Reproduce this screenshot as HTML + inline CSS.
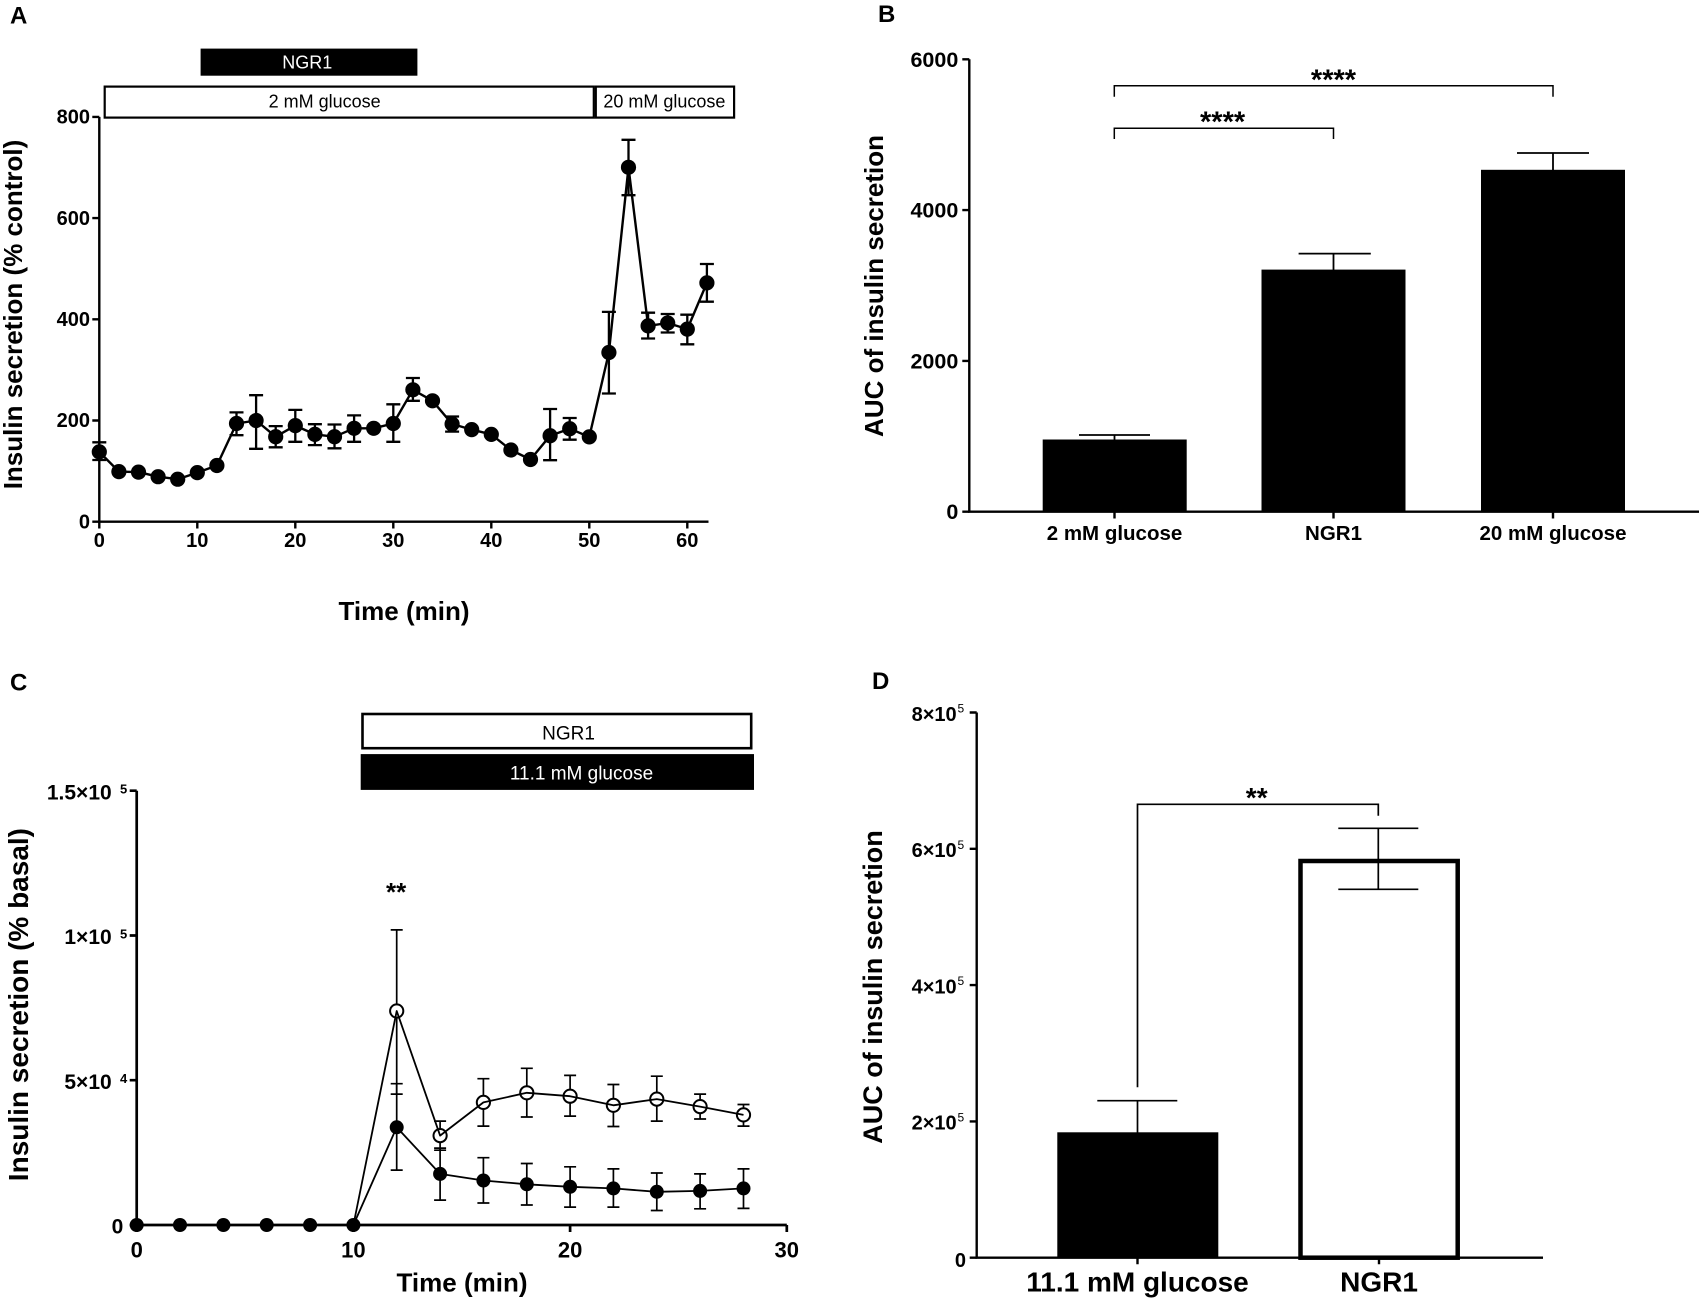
<!DOCTYPE html>
<html>
<head>
<meta charset="utf-8">
<style>
html,body{margin:0;padding:0;background:#fff;}
svg{display:block;}
text{font-family:"Liberation Sans",Arial,sans-serif;fill:#000;}
.b{font-weight:bold;}
</style>
</head>
<body>
<svg width="1699" height="1302" viewBox="0 0 1699 1302" xmlns="http://www.w3.org/2000/svg">
<rect x="0" y="0" width="1699" height="1302" fill="#fff"/>

<!-- ================= PANEL A ================= -->
<text class="b" x="10" y="23.5" font-size="24">A</text>
<!-- header bars -->
<rect x="200.6" y="48.6" width="216.8" height="27.1" fill="#000"/>
<text x="307.3" y="68.5" font-size="18" text-anchor="middle" style="fill:#fff">NGR1</text>
<rect x="104.7" y="86.6" width="489.1" height="31" fill="#fff" stroke="#000" stroke-width="2.2"/>
<rect x="595.8" y="86.6" width="138.3" height="31" fill="#fff" stroke="#000" stroke-width="2.2"/>
<text x="324.6" y="107.5" font-size="18" text-anchor="middle">2 mM glucose</text>
<text x="664.4" y="107.5" font-size="18" text-anchor="middle">20 mM glucose</text>
<!-- axes -->
<g stroke="#000" stroke-width="2.4" fill="none">
<path d="M99.3,116.9 V521.7 H708.5"/>
<path d="M92.3,116.9 H99.3 M92.3,218.1 H99.3 M92.3,319.3 H99.3 M92.3,420.5 H99.3 M92.3,521.7 H99.3"/>
<path d="M99.3,521.7 V528.5 M197.3,521.7 V528.5 M295.3,521.7 V528.5 M393.3,521.7 V528.5 M491.3,521.7 V528.5 M589.3,521.7 V528.5 M687.3,521.7 V528.5"/>
</g>
<g class="b" font-size="20" text-anchor="end">
<text class="b" x="90" y="123.6">800</text>
<text class="b" x="90" y="224.8">600</text>
<text class="b" x="90" y="326">400</text>
<text class="b" x="90" y="427.2">200</text>
<text class="b" x="90" y="528.4">0</text>
</g>
<g font-size="20" text-anchor="middle">
<text class="b" x="99.3" y="547">0</text>
<text class="b" x="197.3" y="547">10</text>
<text class="b" x="295.3" y="547">20</text>
<text class="b" x="393.3" y="547">30</text>
<text class="b" x="491.3" y="547">40</text>
<text class="b" x="589.3" y="547">50</text>
<text class="b" x="687.3" y="547">60</text>
</g>
<text class="b" x="404" y="620" font-size="26" text-anchor="middle">Time (min)</text>
<text class="b" font-size="26" text-anchor="middle" transform="translate(22,314.5) rotate(-90)">Insulin secretion (% control)</text>
<!-- error bars A -->
<g stroke="#000" stroke-width="2.3" fill="none">
<path d="M99.3,442.3V460 M92.3,442.3H106.3 M92.3,460H106.3"/>
<path d="M236.5,412.4V435.2 M229.5,412.4H243.5 M229.5,435.2H243.5"/>
<path d="M256.1,395.2V448.8 M249.1,395.2H263.1 M249.1,448.8H263.1"/>
<path d="M275.7,426.1V447.3 M268.7,426.1H282.7 M268.7,447.3H282.7"/>
<path d="M295.3,409.9V441.8 M288.3,409.9H302.3 M288.3,441.8H302.3"/>
<path d="M314.9,424.2V445.1 M307.9,424.2H321.9 M307.9,445.1H321.9"/>
<path d="M334.5,424.5V448.3 M327.5,424.5H341.5 M327.5,448.3H341.5"/>
<path d="M354.1,415.4V441.8 M347.1,415.4H361.1 M347.1,441.8H361.1"/>
<path d="M393.3,404.3V441.8 M386.3,404.3H400.3 M386.3,441.8H400.3"/>
<path d="M412.9,378V400.8 M405.9,378H419.9 M405.9,400.8H419.9"/>
<path d="M452.1,416.5V431.6 M445.1,416.5H459.1 M445.1,431.6H459.1"/>
<path d="M550.1,409V460.2 M543.1,409H557.1 M543.1,460.2H557.1"/>
<path d="M569.7,418V439.7 M562.7,418H576.7 M562.7,439.7H576.7"/>
<path d="M608.9,311.9V393.5 M601.9,311.9H615.9 M601.9,393.5H615.9"/>
<path d="M628.5,139.8V195.2 M621.5,139.8H635.5 M621.5,195.2H635.5"/>
<path d="M648.1,312.7V338.5 M641.1,312.7H655.1 M641.1,338.5H655.1"/>
<path d="M667.7,314V332.5 M660.7,314H674.7 M660.7,332.5H674.7"/>
<path d="M687.3,314.7V344.3 M680.3,314.7H694.3 M680.3,344.3H694.3"/>
<path d="M706.9,264V301.7 M699.9,264H713.9 M699.9,301.7H713.9"/>
</g>
<polyline fill="none" stroke="#000" stroke-width="2.4" stroke-linejoin="round" points="99.3,451.9 118.9,471.6 138.5,472.1 158.1,476.7 177.7,479.2 197.3,472.6 216.9,465.5 236.5,423.5 256.1,420.5 275.7,436.7 295.3,425.6 314.9,434.4 334.5,436.7 354.1,428.3 373.7,428.3 393.3,423.5 412.9,389.8 432.5,400.8 452.1,424 471.7,429.6 491.3,434.4 510.9,450 530.5,459.5 550.1,435.7 569.7,428.7 589.3,436.9 608.9,352.5 628.5,167.3 648.1,325.9 667.7,323 687.3,329.1 706.9,282.9"/>
<g fill="#000">
<circle cx="99.3" cy="451.9" r="7.6"/><circle cx="118.9" cy="471.6" r="7.6"/><circle cx="138.5" cy="472.1" r="7.6"/>
<circle cx="158.1" cy="476.7" r="7.6"/><circle cx="177.7" cy="479.2" r="7.6"/><circle cx="197.3" cy="472.6" r="7.6"/>
<circle cx="216.9" cy="465.5" r="7.6"/><circle cx="236.5" cy="423.5" r="7.6"/><circle cx="256.1" cy="420.5" r="7.6"/>
<circle cx="275.7" cy="436.7" r="7.6"/><circle cx="295.3" cy="425.6" r="7.6"/><circle cx="314.9" cy="434.4" r="7.6"/>
<circle cx="334.5" cy="436.7" r="7.6"/><circle cx="354.1" cy="428.3" r="7.6"/><circle cx="373.7" cy="428.3" r="7.6"/>
<circle cx="393.3" cy="423.5" r="7.6"/><circle cx="412.9" cy="389.8" r="7.6"/><circle cx="432.5" cy="400.8" r="7.6"/>
<circle cx="452.1" cy="424" r="7.6"/><circle cx="471.7" cy="429.6" r="7.6"/><circle cx="491.3" cy="434.4" r="7.6"/>
<circle cx="510.9" cy="450" r="7.6"/><circle cx="530.5" cy="459.5" r="7.6"/><circle cx="550.1" cy="435.7" r="7.6"/>
<circle cx="569.7" cy="428.7" r="7.6"/><circle cx="589.3" cy="436.9" r="7.6"/><circle cx="608.9" cy="352.5" r="7.6"/>
<circle cx="628.5" cy="167.3" r="7.6"/><circle cx="648.1" cy="325.9" r="7.6"/><circle cx="667.7" cy="323" r="7.6"/>
<circle cx="687.3" cy="329.1" r="7.6"/><circle cx="706.9" cy="282.9" r="7.6"/>
</g>

<!-- ================= PANEL B ================= -->
<text class="b" x="878" y="22" font-size="24">B</text>
<g stroke="#000" stroke-width="2.4" fill="none">
<path d="M969.3,59.3 V511.7 H1699"/>
<path d="M962.3,59.3H969.3 M962.3,210.1H969.3 M962.3,360.9H969.3 M962.3,511.7H969.3"/>
<path d="M1114.5,511.7V518.5 M1333.5,511.7V518.5 M1553,511.7V518.5"/>
</g>
<g font-size="21.5" text-anchor="end">
<text class="b" x="958.3" y="66.8">6000</text>
<text class="b" x="958.3" y="217.6">4000</text>
<text class="b" x="958.3" y="368.4">2000</text>
<text class="b" x="958.3" y="519.2">0</text>
</g>
<rect x="1042.7" y="439.5" width="144" height="72.2" fill="#000"/>
<rect x="1261.5" y="269.6" width="144" height="242.1" fill="#000"/>
<rect x="1481" y="169.8" width="144" height="341.9" fill="#000"/>
<g stroke="#000" stroke-width="1.8" fill="none">
<path d="M1114.5,441V435 M1079,435H1150"/>
<path d="M1333.5,271V253.6 M1298.6,253.6H1370.8"/>
<path d="M1553,171V153 M1517,153H1589"/>
</g>
<g stroke="#000" stroke-width="1.5" fill="none">
<path d="M1114.3,96.7V85.7H1553V96.7"/>
<path d="M1114.3,139V128.3H1333.5V139"/>
</g>
<text class="b" x="1333.5" y="89.5" font-size="29" text-anchor="middle">****</text>
<text class="b" x="1222.6" y="131.5" font-size="29" text-anchor="middle">****</text>
<g font-size="20.5" text-anchor="middle">
<text class="b" x="1114.5" y="540">2 mM glucose</text>
<text class="b" x="1333.5" y="540">NGR1</text>
<text class="b" x="1553" y="540">20 mM glucose</text>
</g>
<text class="b" font-size="26" text-anchor="middle" transform="translate(883,286) rotate(-90)">AUC of insulin secretion</text>

<!-- ================= PANEL C ================= -->
<text class="b" x="10" y="690.5" font-size="24">C</text>
<rect x="362.5" y="714" width="388.7" height="34.2" fill="#fff" stroke="#000" stroke-width="2.6"/>
<text x="568.5" y="739.5" font-size="19" text-anchor="middle">NGR1</text>
<rect x="360.7" y="754.1" width="393.3" height="35.8" fill="#000"/>
<text x="581.5" y="779.5" font-size="19" text-anchor="middle" style="fill:#fff">11.1 mM glucose</text>
<g stroke="#000" stroke-width="2.7" fill="none">
<path d="M136.7,790.7 V1225 H786.8"/>
<path d="M129.7,790.7H136.7 M129.7,935.5H136.7 M129.7,1080.2H136.7 M129.7,1225H136.7"/>
<path d="M136.7,1225V1232 M353.4,1225V1232 M570.1,1225V1232 M786.8,1225V1232"/>
</g>
<g font-size="21" text-anchor="end">
<text class="b" x="111.7" y="799.3">1.5×10</text>
<text class="b" x="111.7" y="944.1">1×10</text>
<text class="b" x="111.7" y="1088.8">5×10</text>
<text class="b" x="123.3" y="1233.6">0</text>
</g>
<g font-size="13">
<text class="b" x="120" y="793.5">5</text>
<text class="b" x="120" y="938.3">5</text>
<text class="b" x="120" y="1083">4</text>
</g>
<g font-size="22" text-anchor="middle">
<text class="b" x="136.7" y="1257.3">0</text>
<text class="b" x="353.4" y="1257.3">10</text>
<text class="b" x="570.1" y="1257.3">20</text>
<text class="b" x="786.8" y="1257.3">30</text>
</g>
<text class="b" x="462" y="1291.4" font-size="26" text-anchor="middle">Time (min)</text>
<text class="b" font-size="28" text-anchor="middle" transform="translate(28,1004.6) rotate(-90)">Insulin secretion (% basal)</text>
<text class="b" x="396.1" y="900.8" font-size="26" text-anchor="middle">**</text>
<!-- C error bars -->
<g stroke="#000" stroke-width="1.7" fill="none">
<path d="M396.7,929.9V1094.1 M390.7,929.9H402.7 M390.7,1094.1H402.7"/>
<path d="M440.1,1121.1V1150.2 M434.1,1121.1H446.1 M434.1,1150.2H446.1"/>
<path d="M483.4,1078.7V1126.1 M477.4,1078.7H489.4 M477.4,1126.1H489.4"/>
<path d="M526.8,1068.3V1117 M520.8,1068.3H532.8 M520.8,1117H532.8"/>
<path d="M570.1,1075.4V1116.1 M564.1,1075.4H576.1 M564.1,1116.1H576.1"/>
<path d="M613.4,1084.5V1126.5 M607.4,1084.5H619.4 M607.4,1126.5H619.4"/>
<path d="M656.8,1076.2V1121.1 M650.8,1076.2H662.8 M650.8,1121.1H662.8"/>
<path d="M700.1,1094.1V1119 M694.1,1094.1H706.1 M694.1,1119H706.1"/>
<path d="M743.5,1104.5V1126.1 M737.5,1104.5H749.5 M737.5,1126.1H749.5"/>
<path d="M396.7,1083.7V1170.1 M390.7,1083.7H402.7 M390.7,1170.1H402.7"/>
<path d="M440.1,1148.1V1200.1 M434.1,1148.1H446.1 M434.1,1200.1H446.1"/>
<path d="M483.4,1157.7V1203 M477.4,1157.7H489.4 M477.4,1203H489.4"/>
<path d="M526.8,1163.5V1205 M520.8,1163.5H532.8 M520.8,1205H532.8"/>
<path d="M570.1,1166.8V1207.1 M564.1,1166.8H576.1 M564.1,1207.1H576.1"/>
<path d="M613.4,1168.9V1207.1 M607.4,1168.9H619.4 M607.4,1207.1H619.4"/>
<path d="M656.8,1173V1210.5 M650.8,1173H662.8 M650.8,1210.5H662.8"/>
<path d="M700.1,1173.9V1208.8 M694.1,1173.9H706.1 M694.1,1208.8H706.1"/>
<path d="M743.5,1168.9V1208.4 M737.5,1168.9H749.5 M737.5,1208.4H749.5"/>
</g>
<g fill="none" stroke="#000" stroke-width="1.8" stroke-linejoin="round">
<polyline points="136.7,1225 353.4,1225 396.7,1127.3 440.1,1173.9 483.4,1180.5 526.8,1184.3 570.1,1186.8 613.4,1188.4 656.8,1191.8 700.1,1190.9 743.5,1188.4"/>
</g>
<g fill="#fff" stroke="#000" stroke-width="2">
<circle cx="396.7" cy="1011" r="6.6"/><circle cx="440.1" cy="1135.6" r="6.6"/><circle cx="483.4" cy="1102.4" r="6.6"/>
<circle cx="526.8" cy="1092.8" r="6.6"/><circle cx="570.1" cy="1096.2" r="6.6"/><circle cx="613.4" cy="1105.3" r="6.6"/>
<circle cx="656.8" cy="1099.1" r="6.6"/><circle cx="700.1" cy="1106.6" r="6.6"/><circle cx="743.5" cy="1114.9" r="6.6"/>
</g>
<polyline fill="none" stroke="#000" stroke-width="1.8" stroke-linejoin="round" points="353.4,1225 396.7,1011 440.1,1135.6 483.4,1102.4 526.8,1092.8 570.1,1096.2 613.4,1105.3 656.8,1099.1 700.1,1106.6 743.5,1114.9"/>
<g fill="#000">
<circle cx="136.7" cy="1225" r="7"/><circle cx="180" cy="1225" r="7"/><circle cx="223.4" cy="1225" r="7"/>
<circle cx="266.7" cy="1225" r="7"/><circle cx="310.1" cy="1225" r="7"/><circle cx="353.4" cy="1225" r="7"/>
<circle cx="396.7" cy="1127.3" r="7"/><circle cx="440.1" cy="1173.9" r="7"/><circle cx="483.4" cy="1180.5" r="7"/>
<circle cx="526.8" cy="1184.3" r="7"/><circle cx="570.1" cy="1186.8" r="7"/><circle cx="613.4" cy="1188.4" r="7"/>
<circle cx="656.8" cy="1191.8" r="7"/><circle cx="700.1" cy="1190.9" r="7"/><circle cx="743.5" cy="1188.4" r="7"/>
</g>

<!-- ================= PANEL D ================= -->
<text class="b" x="872" y="689" font-size="24">D</text>
<g stroke="#000" stroke-width="2.4" fill="none">
<path d="M976.7,712.5 V1257.7 H1543"/>
<path d="M969.7,712.5H976.7 M969.7,848.8H976.7 M969.7,985.1H976.7 M969.7,1121.4H976.7 M969.7,1257.7H976.7"/>
<path d="M1137.5,1257.7V1264.3 M1379,1257.7V1264.3"/>
</g>
<g font-size="20" text-anchor="end">
<text class="b" x="956.7" y="720.8">8×10</text>
<text class="b" x="956.7" y="857.1">6×10</text>
<text class="b" x="956.7" y="993.4">4×10</text>
<text class="b" x="956.7" y="1129.7">2×10</text>
<text class="b" x="966" y="1267">0</text>
</g>
<g font-size="12">
<text x="957.5" y="712.5">5</text>
<text x="957.5" y="848.8">5</text>
<text x="957.5" y="985.1">5</text>
<text x="957.5" y="1121.4">5</text>
</g>
<rect x="1057.3" y="1132.3" width="161" height="125.4" fill="#000"/>
<rect x="1300.5" y="861" width="157.2" height="396.7" fill="#fff" stroke="#000" stroke-width="4.5"/>
<g stroke="#000" stroke-width="1.7" fill="none">
<path d="M1137.5,1133V1100.7 M1097.3,1100.7H1177.3"/>
<path d="M1378.3,828.3V889.3 M1338.3,828.3H1418.3 M1338.3,889.3H1418.3"/>
<path d="M1137.5,1087.3V804.3H1378.3V815.7"/>
</g>
<text class="b" x="1256.7" y="807" font-size="28" text-anchor="middle">**</text>
<g font-size="28" text-anchor="middle">
<text class="b" x="1137.5" y="1291.7">11.1 mM glucose</text>
<text class="b" x="1379" y="1291.7">NGR1</text>
</g>
<text class="b" font-size="27" text-anchor="middle" transform="translate(882,987) rotate(-90)">AUC of insulin secretion</text>
</svg>
</body>
</html>
